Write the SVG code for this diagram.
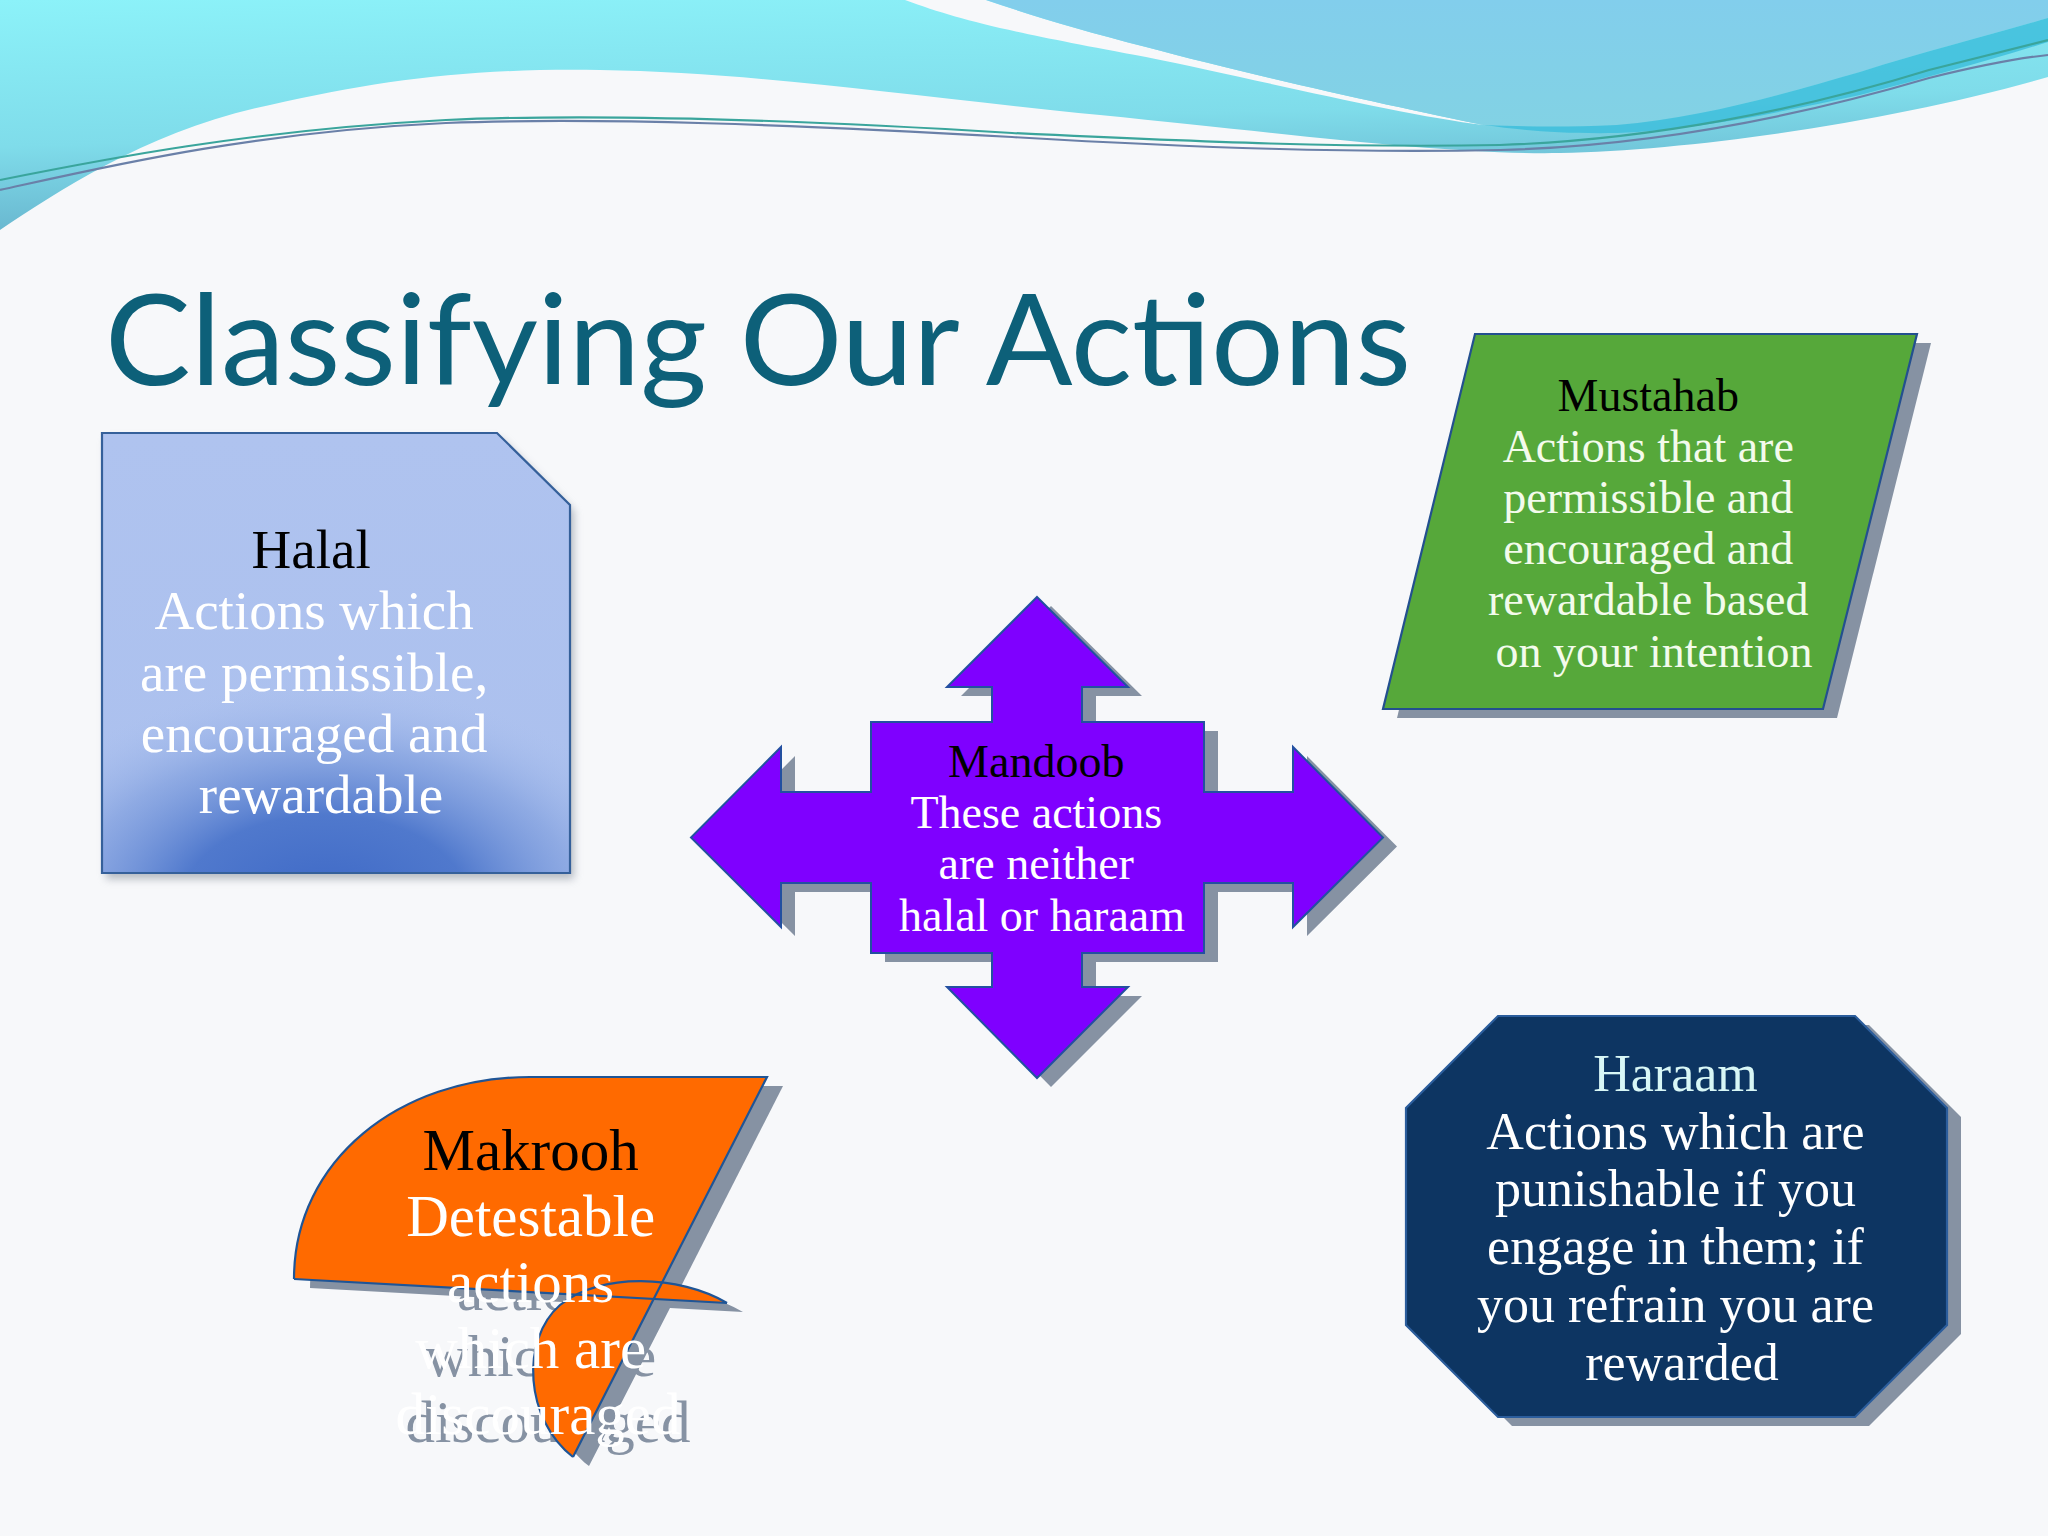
<svg xmlns="http://www.w3.org/2000/svg" width="2048" height="1536" viewBox="0 0 2048 1536">
  <defs>
    <linearGradient id="cyanGrad" x1="0" y1="0" x2="0.25" y2="1">
      <stop offset="0" stop-color="#8cf2f9"/>
      <stop offset="0.6" stop-color="#7fdcea"/>
      <stop offset="1" stop-color="#66b2cc"/>
    </linearGradient>
    <linearGradient id="blueGrad" x1="0" y1="0" x2="0" y2="1">
      <stop offset="0" stop-color="#82ceec"/>
      <stop offset="1" stop-color="#82d2e4"/>
    </linearGradient>
    <linearGradient id="halalBase" x1="0" y1="0" x2="0" y2="1">
      <stop offset="0" stop-color="#afc3ef"/>
      <stop offset="1" stop-color="#abc0ee"/>
    </linearGradient>
    <radialGradient id="halalGlow" cx="0.5" cy="0.5" r="0.5">
      <stop offset="0" stop-color="#3d68c6"/>
      <stop offset="0.4" stop-color="#4b75cb" stop-opacity="0.95"/>
      <stop offset="0.7" stop-color="#7b9bdc" stop-opacity="0.6"/>
      <stop offset="1" stop-color="#aec3ef" stop-opacity="0"/>
    </radialGradient>
    <clipPath id="halalClip">
      <path d="M102,433 L497,433 L570,505 L570,873 L102,873 Z"/>
    </clipPath>
    <filter id="softShadow" x="-10%" y="-10%" width="130%" height="130%">
      <feGaussianBlur stdDeviation="4"/>
    </filter>
    <style>
      .serif { font-family: "Liberation Serif", "DejaVu Serif", serif; text-anchor: middle; }
      .head { fill: #000000; }
      .body { fill: #ffffff; }
      .shadow { fill: #8692a3; }
      .wline { fill: none; stroke-width: 2.2; }
    </style>
  </defs>

  <!-- background -->
  <g id="background">
    <rect x="0" y="0" width="2048" height="1536" fill="#f7f8fa"/>
    <path d="M0,0 H2048 V77 C1900,120 1700,150 1560,153 C1450,155 1300,135 1100,115 C900,95 750,72 600,70 C470,68 380,80 270,105 C150,130 60,190 0,230 Z" fill="url(#cyanGrad)"/>
    <path d="M905,0 C960,20 1000,30 1146,57 C1250,78 1400,115 1484,125 C1400,108 1250,75 1146,47 C1080,30 1030,15 986,0 Z" fill="#f7f8fa"/>
    <path d="M986,0 H2048 V18 C1990,35 1930,50 1860,72 C1780,95 1700,118 1617,125 C1560,128 1520,127 1484,125 C1400,108 1250,75 1146,47 C1080,30 1030,15 986,0 Z" fill="url(#blueGrad)"/>
    <path d="M1484,125 C1530,127 1570,127 1617,125 C1700,118 1780,95 1860,72 C1930,50 1990,35 2048,18 V42 C1990,60 1930,77 1860,95 C1780,112 1700,130 1617,133 C1560,134 1520,130 1484,125 Z" fill="#3ebedc" opacity="0.85"/>
    <path class="wline" stroke="#3aa59c" d="M0,180 C100,160 250,130 446,120 C600,113 800,120 1012,133 C1200,142 1350,148 1500,145 C1650,140 1800,110 1929,70 C1990,55 2020,47 2048,40"/>
    <path class="wline" stroke="#6a80a8" d="M0,190 C100,168 250,132 446,123 C600,117 800,125 1012,137 C1200,148 1350,153 1500,150 C1650,146 1800,116 1929,78 C1990,63 2020,58 2048,55"/>
  </g>

  <!-- title -->
  <text id="title" x="105" y="385" textLength="1306" lengthAdjust="spacingAndGlyphs" font-family="Lato, 'Open Sans', 'Liberation Sans', sans-serif" font-size="126" fill="#0d6079">Classifying Our Actions</text>

  <!-- connectors: none in this diagram -->
  <g id="connectors"/>

  <!-- Halal -->
  <g id="halal">
    <path d="M106,439 L501,439 L574,511 L574,879 L106,879 Z" fill="#7f8794" opacity="0.55" filter="url(#softShadow)"/>
    <path d="M102,433 L497,433 L570,505 L570,873 L102,873 Z" fill="url(#halalBase)"/>
    <g clip-path="url(#halalClip)">
      <ellipse cx="325" cy="905" rx="360" ry="225" fill="url(#halalGlow)"/>
    </g>
    <path d="M102,433 L497,433 L570,505 L570,873 L102,873 Z" fill="none" stroke="#35609a" stroke-width="2.2"/>
    <text class="serif" font-size="55">
      <tspan class="head" x="318" y="568">Halal</tspan>
      <tspan class="body" x="321" y="629">Actions which</tspan>
      <tspan class="body" x="321" y="691">are permissible,</tspan>
      <tspan class="body" x="321" y="752">encouraged and</tspan>
      <tspan class="body" x="321" y="813">rewardable</tspan>
    </text>
  </g>

  <!-- Mustahab -->
  <g id="mustahab">
    <path d="M1489,343 L1931,343 L1837,718 L1397,718 Z" class="shadow"/>
    <path d="M1475,334 L1917,334 L1823,709 L1383,709 Z" fill="#56a83a" stroke="#23508f" stroke-width="2.2"/>
    <text class="serif" font-size="46">
      <tspan class="head" x="1654" y="411">Mustahab</tspan>
      <tspan x="1654" y="462" fill="#f3fbec">Actions that are</tspan>
      <tspan x="1654" y="513" fill="#f3fbec">permissible and</tspan>
      <tspan x="1654" y="564" fill="#f3fbec">encouraged and</tspan>
      <tspan x="1654" y="615" fill="#f3fbec">rewardable based</tspan>
      <tspan x="1654" y="667" fill="#f3fbec">on your intention</tspan>
    </text>
  </g>

  <!-- Mandoob -->
  <g id="mandoob">
    <path transform="translate(14,9)" class="shadow" d="M1037,597 L1128,687 L1082,687 L1082,722 L1204,722 L1204,792 L1293,792 L1293,747 L1383,837.5 L1293,927 L1293,883 L1204,883 L1204,953 L1082,953 L1082,987 L1128,987 L1037,1078 L947,987 L992,987 L992,953 L871,953 L871,883 L781,883 L781,927 L691,837.5 L781,747 L781,792 L871,792 L871,722 L992,722 L992,687 L947,687 Z"/>
    <path fill="#7f00ff" stroke="#2350a0" stroke-width="2" d="M1037,597 L1128,687 L1082,687 L1082,722 L1204,722 L1204,792 L1293,792 L1293,747 L1383,837.5 L1293,927 L1293,883 L1204,883 L1204,953 L1082,953 L1082,987 L1128,987 L1037,1078 L947,987 L992,987 L992,953 L871,953 L871,883 L781,883 L781,927 L691,837.5 L781,747 L781,792 L871,792 L871,722 L992,722 L992,687 L947,687 Z"/>
    <text class="serif" font-size="46">
      <tspan class="head" x="1042" y="777">Mandoob</tspan>
      <tspan class="body" x="1042" y="828">These actions</tspan>
      <tspan class="body" x="1042" y="879">are neither</tspan>
      <tspan class="body" x="1042" y="931">halal or haraam</tspan>
    </text>
  </g>

  <!-- Makrooh -->
  <g id="makrooh">
    <text class="serif shadow" font-size="59">
      <tspan x="548" y="1178">Makrooh</tspan>
      <tspan x="548" y="1244">Detestable</tspan>
      <tspan x="548" y="1310">actions</tspan>
      <tspan x="548" y="1376">which are</tspan>
      <tspan x="548" y="1442">discouraged</tspan>
    </text>
    <g transform="translate(16,9)" class="shadow">
      <path d="M294,1279 C294,1160 400,1077 530,1077 L767,1077 L654,1299 Z"/>
      <path d="M727,1303 C680,1275 600,1272 560,1305 C520,1340 525,1420 573,1457 L654,1299 Z"/>
    </g>
    <path d="M294,1279 C294,1160 400,1077 530,1077 L767,1077 L654,1299 Z" fill="#ff6a00"/>
    <path d="M727,1303 C680,1275 600,1272 560,1305 C520,1340 525,1420 573,1457 L654,1299 Z" fill="#ff6a00"/>
    <path d="M294,1279 C294,1160 400,1077 530,1077 L767,1077 L573,1457" fill="none" stroke="#1f5596" stroke-width="2.2"/>
    <path d="M294,1279 L727,1303" fill="none" stroke="#1f5596" stroke-width="2.2"/>
    <path d="M727,1303 C680,1275 600,1272 560,1305 C520,1340 525,1420 573,1457" fill="none" stroke="#1f5596" stroke-width="2.2"/>
    <text class="serif" font-size="59">
      <tspan class="head" x="538" y="1170">Makrooh</tspan>
      <tspan class="body" x="538" y="1236">Detestable</tspan>
      <tspan class="body" x="538" y="1302">actions</tspan>
      <tspan class="body" x="538" y="1368">which are</tspan>
      <tspan class="body" x="538" y="1434">discouraged</tspan>
    </text>
  </g>

  <!-- Haraam -->
  <g id="haraam">
    <path transform="translate(14,9)" class="shadow" d="M1498,1016 L1855,1016 L1947,1108 L1947,1325 L1855,1417 L1498,1417 L1406,1325 L1406,1108 Z"/>
    <path d="M1498,1016 L1855,1016 L1947,1108 L1947,1325 L1855,1417 L1498,1417 L1406,1325 L1406,1108 Z" fill="#0d3562" stroke="#2b5d9c" stroke-width="2.2"/>
    <text class="serif" font-size="52">
      <tspan x="1682" y="1091" fill="#d8f7f6">Haraam</tspan>
      <tspan class="body" x="1682" y="1149">Actions which are</tspan>
      <tspan class="body" x="1682" y="1206">punishable if you</tspan>
      <tspan class="body" x="1682" y="1264">engage in them; if</tspan>
      <tspan class="body" x="1682" y="1322">you refrain you are</tspan>
      <tspan class="body" x="1682" y="1380">rewarded</tspan>
    </text>
  </g>
</svg>
